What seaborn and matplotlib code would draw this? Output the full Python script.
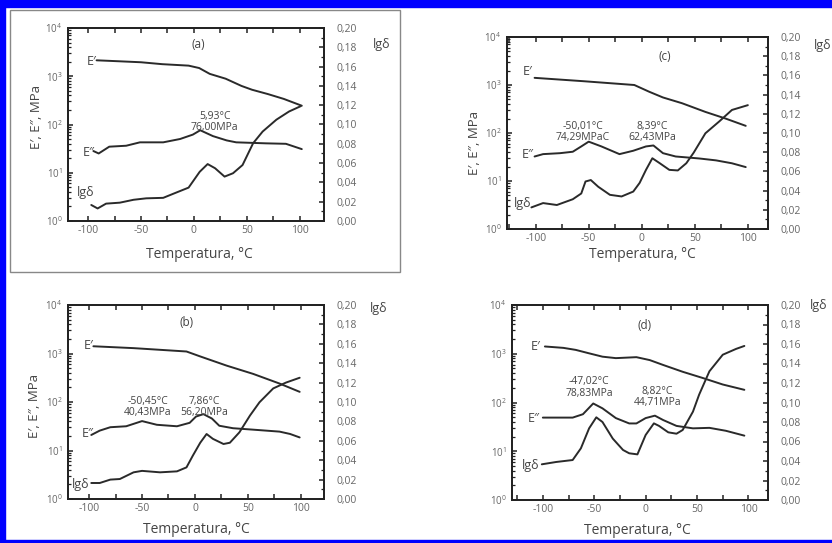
import matplotlib
matplotlib.use("Agg")
import matplotlib.pyplot as plt
import matplotlib.ticker as mticker
from matplotlib.patches import Rectangle
import seaborn as sns

# ---------------- data ----------------
# Panel (a)
a_T_Ep = [-92, -70, -50, -30, -5, 5, 15, 30, 45, 55, 70, 85, 102]
a_Ep = [2140, 2040, 1950, 1780, 1660, 1480, 1120, 890, 630, 525, 427, 339, 245]
a_T_Epp = [-95, -90, -80, -64, -51, -29, -13, -1, 6, 18, 31, 40, 68, 87, 102]
a_Epp = [28.2, 25.1, 34.7, 36.3, 42.7, 42.7, 50.1, 61.7, 76.0, 57.5, 46.8, 42.7, 40.7, 39.8, 30.9]
a_T_tan = [-97, -91, -83, -70, -57, -45, -29, -20, -5, 5.5, 13, 20, 29, 37, 46, 56, 65, 78, 90, 101]
a_tan = [0.0166, 0.013, 0.018, 0.019, 0.022, 0.0235, 0.024, 0.028, 0.0346, 0.051, 0.059, 0.0547,
         0.046, 0.0495, 0.058, 0.0806, 0.0927, 0.105, 0.1135, 0.119]

# Panel (b)
b_T_Ep = [-96, -58, -8, 5, 30, 55, 80, 99]
b_Ep = [1410, 1290, 1100, 870, 562, 380, 240, 162]
b_T_Epp = [-98, -90, -80, -65, -50, -36, -17, -5, 1, 8, 16, 23, 36, 55, 80, 90, 99]
b_Epp = [20.9, 25.7, 30.2, 31.6, 40.4, 33.9, 31.6, 37.2, 50.1, 56.2, 45.7, 32.4, 28.8, 26.9, 24.5, 21.9, 18.6]
b_T_tan = [-98, -90, -80, -71, -58, -50, -33, -17, -8, -2, 5, 11, 17, 27, 33, 42, 52, 61, 74, 86, 99]
b_tan = [0.0165, 0.0165, 0.02, 0.0206, 0.0275, 0.029, 0.0275, 0.0285, 0.0326, 0.0447, 0.058, 0.067,
         0.062, 0.0567, 0.058, 0.0687, 0.086, 0.0997, 0.114, 0.120, 0.125]

# Panel (c)
c_T_Ep = [-101, -55, -7, 7, 20, 38, 60, 79, 98]
c_Ep = [1410, 1200, 1000, 724, 550, 417, 275, 200, 141]
c_T_Epp = [-101, -93, -77, -65, -57, -50, -38, -21, -8, 4, 11, 20, 32, 54, 70, 85, 98]
c_Epp = [32.4, 36.3, 38.0, 40.7, 52.5, 66.0, 52.5, 36.3, 42.7, 52.5, 55.0, 38.0, 32.4, 29.5, 26.9, 23.4, 19.5]
c_T_tan = [-104, -93, -80, -65, -57, -53, -48, -41, -30, -19, -8, -2, 4, 10, 17, 26, 34, 42, 49, 60, 73, 85, 100]
c_tan = [0.0225, 0.027, 0.025, 0.031, 0.037, 0.0495, 0.051, 0.044, 0.0356, 0.0339, 0.039, 0.048,
         0.0616, 0.0737, 0.0685, 0.0616, 0.061, 0.0685, 0.0796, 0.0997, 0.112, 0.124, 0.129]

# Panel (d)
d_T_Ep = [-98, -80, -68, -55, -42, -29, -9, 4, 17, 36, 56, 75, 96]
d_Ep = [1410, 1320, 1200, 1020, 871, 813, 851, 741, 589, 427, 316, 234, 182]
d_T_Epp = [-100, -71, -61, -51, -42, -29, -16, -9, 0, 9, 17, 30, 46, 62, 78, 96]
d_Epp = [49, 49, 57.5, 95.5, 75.9, 47.9, 37.2, 37.2, 47.9, 53.7, 43.7, 33.1, 29.5, 30.2, 26.3, 20.9]
d_T_tan = [-101, -87, -71, -63, -55, -48, -42, -32, -22, -16, -8, 0, 8, 13, 22, 30, 36, 46, 52, 62, 75, 88, 96]
d_tan = [0.0366, 0.039, 0.041, 0.053, 0.0735, 0.0848, 0.080, 0.063, 0.0513, 0.0479, 0.0468, 0.0667,
         0.0786, 0.076, 0.0694, 0.068, 0.0718, 0.0906, 0.108, 0.132, 0.149, 0.155, 0.158]

panel_tags = ["(a)", "(b)", "(c)", "(d)"]
peak_labels = {
    "(a)": [("5,93°C", "76,00MPa")],
    "(b)": [("-50,45°C", "40,43MPa"), ("7,86°C", "56,20MPa")],
    "(c)": [("-50,01°C", "74,29MPaC"), ("8,39°C", "62,43MPa")],
    "(d)": [("-47,02°C", "78,83MPa"), ("8,82°C", "44,71MPa")],
}
x_label = "Temperatura, °C"
y_label = "E′, E″, MPa"
y2_label = "lgδ"

# ---------------- style ----------------
sns.set_style("ticks")
plt.rcParams['font.family'] = ['Open Sans', 'DejaVu Sans']
plt.rcParams['mathtext.default'] = 'regular'

LINE = '#2a2a2a'
TXT = '#444444'
TICK = '#666666'

W, H = 832, 543
fig = plt.figure(figsize=(W / 100, H / 100), dpi=100)

# layout (pixels): left, top, right, bottom of each axes
layout = {
    "(a)": dict(rect=(68, 28, 324, 221), xlim=(-119, 123)),
    "(b)": dict(rect=(68, 305, 324, 499), xlim=(-120, 122)),
    "(c)": dict(rect=(507, 37, 768, 229), xlim=(-127, 119)),
    "(d)": dict(rect=(512, 305, 768, 500), xlim=(-130, 119)),
}
# text placement in axes fraction; peaks: (x, y of two-line block centre)
txt_pos = {
    "(a)": dict(Ep=(0.111, 0.827), Epp=(0.104, 0.355), tan=(0.104, 0.147), tag=(0.508, 0.913),
                peaks=[(0.573, 0.512)], y2=(1.19, 0.917), ylab=(-0.125, 0.54), xlab=(0.514, -0.176)),
    "(b)": dict(Ep=(0.100, 0.79), Epp=(0.100, 0.338), tan=(0.085, 0.077), tag=(0.462, 0.911),
                peaks=[(0.3125, 0.474), (0.532, 0.474)], y2=(1.18, 0.983),
                ylab=(-0.13, 0.48), xlab=(0.50, -0.155)),
    "(c)": dict(Ep=(0.099, 0.818), Epp=(0.102, 0.389), tan=(0.093, 0.131), tag=(0.603, 0.896),
                peaks=[(0.29, 0.505), (0.558, 0.505)], y2=(1.175, 0.957),
                ylab=(-0.125, 0.446), xlab=(0.52, -0.133)),
    "(d)": dict(Ep=(0.113, 0.786), Epp=(0.109, 0.419), tan=(0.107, 0.179), tag=(0.516, 0.897),
                peaks=[(0.302, 0.576), (0.568, 0.527)], y2=(1.165, 1.0),
                ylab=None, xlab=(0.49, -0.154)),
}
series = {
    "(a)": (a_T_Ep, a_Ep, a_T_Epp, a_Epp, a_T_tan, a_tan),
    "(b)": (b_T_Ep, b_Ep, b_T_Epp, b_Epp, b_T_tan, b_tan),
    "(c)": (c_T_Ep, c_Ep, c_T_Epp, c_Epp, c_T_tan, c_tan),
    "(d)": (d_T_Ep, d_Ep, d_T_Epp, d_Epp, d_T_tan, d_tan),
}


def comma_fmt(v, pos):
    return f"{v:.2f}".replace('.', ',')


for tag in panel_tags:
    l, t, r, b = layout[tag]["rect"]
    ax = fig.add_axes([l / W, 1 - b / H, (r - l) / W, (b - t) / H])
    ax.set_yscale('log')
    ax2 = ax.twinx()
    T1, Ep, T2, Epp, T3, tan = series[tag]
    sns.lineplot(x=T1, y=Ep, ax=ax, color=LINE, lw=1.4, estimator=None, sort=False)
    sns.lineplot(x=T2, y=Epp, ax=ax, color=LINE, lw=1.4, estimator=None, sort=False)
    sns.lineplot(x=T3, y=tan, ax=ax2, color=LINE, lw=1.4, estimator=None, sort=False)

    ax.set_ylim(1, 1e4)
    ax2.set_ylim(0, 0.2)
    ax.set_xlim(*layout[tag]["xlim"])
    ax.set_xlabel("")
    ax.set_ylabel("")
    ax2.set_ylabel("")

    ax.xaxis.set_major_locator(mticker.MultipleLocator(50))
    ax.xaxis.set_minor_locator(mticker.MultipleLocator(25))
    ax.xaxis.set_major_formatter(mticker.FuncFormatter(lambda v, p: f"{v:.0f}"))
    ax.yaxis.set_major_locator(mticker.LogLocator(base=10, numticks=10))
    ax.yaxis.set_minor_locator(mticker.LogLocator(base=10, subs=range(2, 10), numticks=20))
    ax.yaxis.set_minor_formatter(mticker.NullFormatter())
    ax2.yaxis.set_major_locator(mticker.MultipleLocator(0.02))
    ax2.yaxis.set_minor_locator(mticker.MultipleLocator(0.01))
    ax2.yaxis.set_major_formatter(mticker.FuncFormatter(comma_fmt))

    ax.tick_params(axis='x', which='both', direction='in', top=True, bottom=True,
                   length=3.5, width=1.1, colors='#222', labelcolor=TICK, labelsize=7.5, pad=3)
    ax.tick_params(axis='y', which='major', direction='in', length=3.5, width=1.1,
                   colors='#222', labelcolor=TICK, labelsize=7, pad=4)
    ax.tick_params(axis='y', which='minor', direction='in', length=2, width=0.9, colors='#222')
    ax2.tick_params(axis='y', which='major', direction='in', length=3.5, width=1.1,
                    colors='#222', labelcolor=TICK, labelsize=7.5, pad=9)
    ax2.tick_params(axis='y', which='minor', direction='in', length=2, width=0.9, colors='#222')
    for a in (ax, ax2):
        for s in a.spines.values():
            s.set_linewidth(1.3)
            s.set_color('#222')
            s.set_visible(True)

    p = txt_pos[tag]
    ax.text(*p["Ep"], "E′", transform=ax.transAxes, ha='right', va='center', fontsize=9, color=TXT)
    ax.text(*p["Epp"], "E″", transform=ax.transAxes, ha='right', va='center', fontsize=9, color=TXT)
    ax.text(*p["tan"], "lgδ", transform=ax.transAxes, ha='right', va='center', fontsize=9, color=TXT)
    ax.text(*p["tag"], tag, transform=ax.transAxes, ha='center', va='center', fontsize=8.5, color=TXT)
    for (xf, yc), (l1, l2) in zip(p["peaks"], peak_labels[tag]):
        ax.text(xf, yc, f"{l1}\n{l2}", transform=ax.transAxes, ha='center', va='center',
                multialignment='center', linespacing=1.05, fontsize=7.5, color=TXT)
    ax.text(*p["y2"], y2_label, transform=ax.transAxes, ha='left', va='center', fontsize=9, color=TXT)
    if p["ylab"] is not None:
        ax.text(*p["ylab"], y_label, transform=ax.transAxes, ha='center', va='center',
                rotation=90, fontsize=9.5, color=TXT)
    ax.text(*p["xlab"], x_label, transform=ax.transAxes, ha='center', va='center', fontsize=10, color=TXT)

# frame around panel (a)
fig.patches.append(Rectangle((10 / W, 1 - 272 / H), 390 / W, 262 / H, transform=fig.transFigure,
                             fill=False, edgecolor='#888888', lw=1.0))
# blue border (top, left, bottom)
BLUE = '#0000ff'
fig.patches.append(Rectangle((0, 1 - 7 / H), 1, 7 / H, transform=fig.transFigure, color=BLUE, zorder=10))
fig.patches.append(Rectangle((0, 0), 5 / W, 1, transform=fig.transFigure, color=BLUE, zorder=10))
fig.patches.append(Rectangle((0, 0), 1, 3 / H, transform=fig.transFigure, color=BLUE, zorder=10))

fig.savefig("out.png", dpi=100)
